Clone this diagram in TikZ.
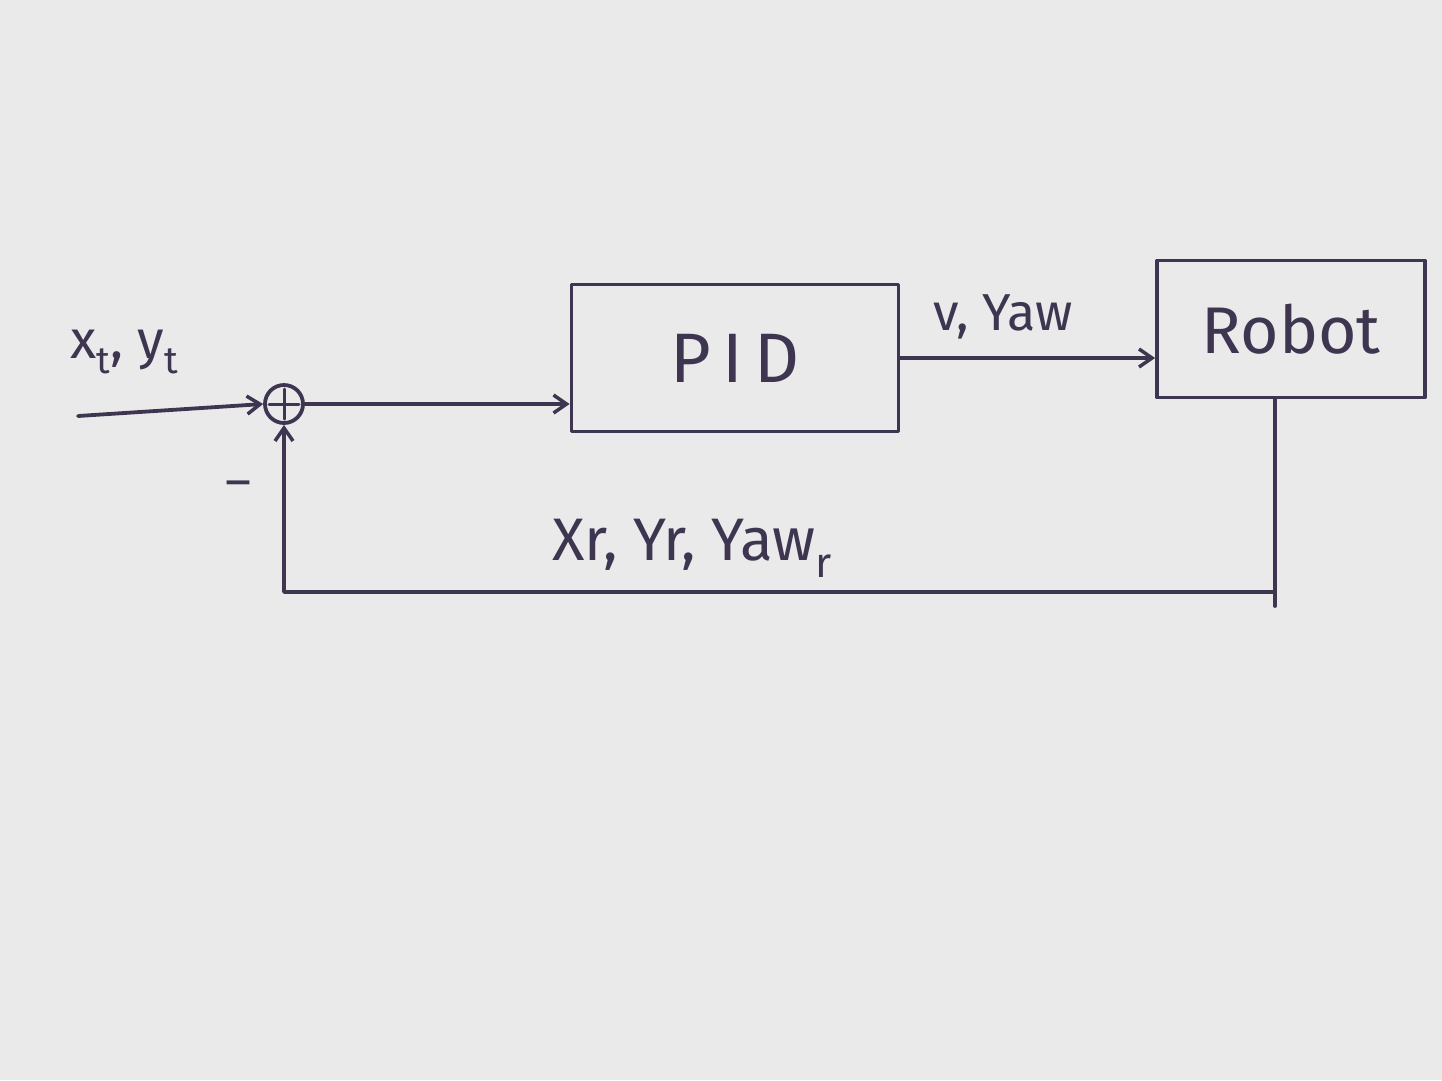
\documentclass[tikz,border=0pt]{standalone}
\usepackage{fontspec}
\setmainfont{Fira Sans}
\usetikzlibrary{arrows.meta}
\definecolor{paper}{HTML}{EAEAEB}
\definecolor{ink}{HTML}{3E3650}
\newcommand{\sbs}[1]{\raisebox{-0.28em}{\scalebox{0.7}{#1}}}
\begin{document}
\begin{tikzpicture}[x=1pt,y=-1pt, color=ink,
  thick ink/.style={line width=3.8pt, line cap=round, line join=round},
  arr/.style={thick ink, -{Straight Barb[length=13pt,width=18pt,line width=3.5pt]}},
  blockbox/.style={draw, thick ink, rectangle, inner sep=0pt},
  lbl/.style={inner sep=0pt}
]
\fill[paper] (0,0) rectangle (1442,1080);
\useasboundingbox (0,0) rectangle (1442,1080);

% blocks
\node[blockbox, minimum width=327pt, minimum height=147pt,
      font=\fontsize{70}{80}\selectfont] (pid) at (735,358) {P\,I\,D};
\node[blockbox, minimum width=268pt, minimum height=137pt,
      font=\fontsize{66}{76}\selectfont] (robot) at (1291,329) {Robot};

% summing junction
\node[draw, thick ink, circle, minimum size=38pt, inner sep=0pt,
      path picture={
        \draw[line width=3pt] ([xshift=4pt]path picture bounding box.west) -- ([xshift=-4pt]path picture bounding box.east);
        \draw[line width=3pt] ([yshift=-4pt]path picture bounding box.north) -- ([yshift=4pt]path picture bounding box.south);
      }] (sum) at (284,404) {};

% input
\coordinate (in) at (78,416);
\draw[arr] (in) -- (sum.west);
\node[lbl, font=\fontsize{54}{60}\selectfont] (inlbl) at (124,352) {x\sbs{t}, y\sbs{t}};

% sum -> PID
\draw[arr] (sum.east) -- (sum.east -| pid.west);

% PID -> Robot
\draw[arr] (pid.east) -- (pid.east -| robot.west);
\node[lbl, font=\fontsize{52}{58}\selectfont] (vlbl) at (1003,317) {v, Yaw};

% feedback
\coordinate (fb) at (1275,592);
\coordinate (fbend) at (1275,606);
\draw[thick ink] (robot.south -| fb) -- (fbend);
\draw[arr] (fb) -| (sum.south);
\node[lbl, font=\fontsize{60}{66}\selectfont] (fblbl) at (692,548) {Xr, Yr, Yaw\sbs{r}};

% minus sign
\node[lbl, font=\fontsize{50}{56}\selectfont] (minus) at (238,490) {–};
\end{tikzpicture}
\end{document}
